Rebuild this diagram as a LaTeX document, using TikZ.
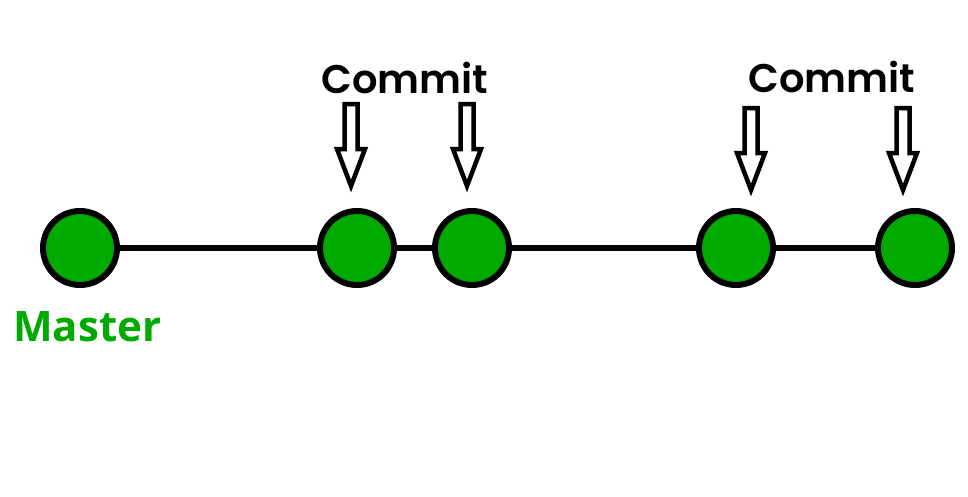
\documentclass[tikz,border=0pt]{standalone}
\usepackage{fontspec}
\setmainfont{Open Sans}
\newfontfamily\commitfont{Poppins SemiBold}
\definecolor{commitgreen}{RGB}{0,170,0}

\begin{document}
\begin{tikzpicture}[x = 1pt, y = -1pt]
	\tikzstyle{commitStyle}=[shape = circle, minimum size = 74pt, inner sep = 0pt, draw, line width = 6pt, fill = commitgreen]
	\tikzstyle{branchStyle}=[line width = 5.5pt]
	\tikzstyle{arrowStyle}=[draw, line width = 4.5pt, fill = white, line join = miter]
	\tikzstyle{labelStyle}=[font = \commitfont\fontsize{40}{40}\selectfont, anchor = base, inner sep = 0pt]
	\tikzstyle{masterStyle}=[font = \bfseries\fontsize{42}{42}\selectfont, text = commitgreen, anchor = base west, inner sep = 0pt]
	\tikzset{commitArrow/.pic = {\draw[arrowStyle] (-6.5,-82) -- (6.5,-82) -- (6.5,-37) -- (14,-37) -- (0,0) -- (-14,-37) -- (-6.5,-37) -- cycle;}}
	\useasboundingbox (0,0) rectangle (968,496);
	\node[commitStyle] (c0) at (80,248) {};
	\node[commitStyle] (c1) at (357,248) {};
	\node[commitStyle] (c2) at (472,248) {};
	\node[commitStyle] (c3) at (736,248) {};
	\node[commitStyle] (c4) at (915,248) {};
	\draw[branchStyle] (c0) -- (c1);
	\draw[branchStyle] (c1) -- (c2);
	\draw[branchStyle] (c2) -- (c3);
	\draw[branchStyle] (c3) -- (c4);
	\node[masterStyle] (master) at (13,341) {Master};
	\node[labelStyle] (commitA) at (405,93) {Commit};
	\node[labelStyle] (commitB) at (832,92) {Commit};
	\pic at (351,186) {commitArrow};
	\pic at (467,186) {commitArrow};
	\pic at (751,190) {commitArrow};
	\pic at (903,190) {commitArrow};
\end{tikzpicture}
\end{document}
